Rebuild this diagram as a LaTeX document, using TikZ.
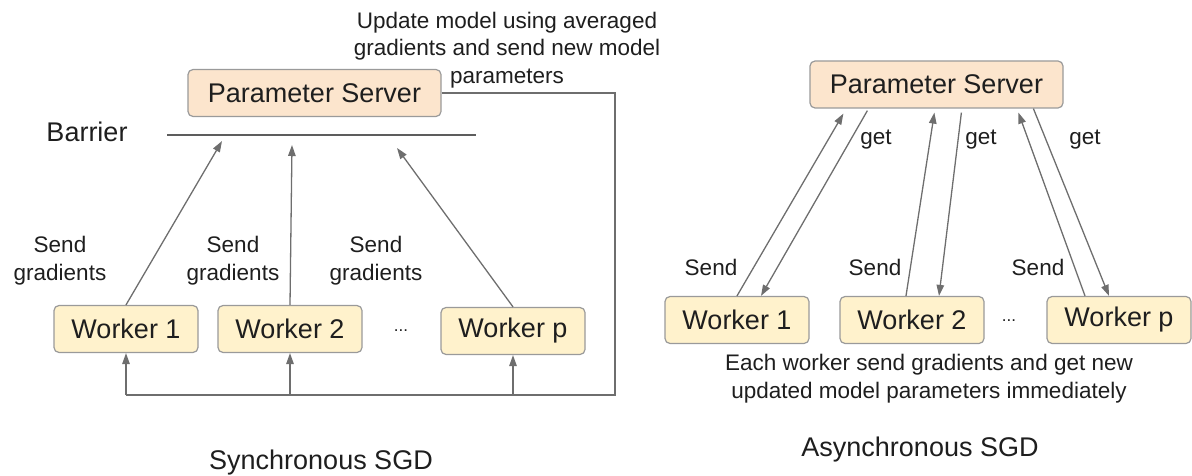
\documentclass[tikz,border=0pt]{standalone}
\usepackage{fontspec}
\setmainfont{Liberation Sans}
\usetikzlibrary{arrows.meta,calc}
\definecolor{psfill}{HTML}{FCE5CD}
\definecolor{wkfill}{HTML}{FFF2CC}
\definecolor{rim}{HTML}{9A9A9A}
\definecolor{wirecol}{HTML}{6E6E6E}
\definecolor{ink}{HTML}{1E1E1E}
\tikzstyle{server}=[draw=rim,fill=psfill,rounded corners=5pt,line width=1.2pt,minimum width=253pt,minimum height=47pt,text=ink,font=\fontsize{27}{32}\selectfont]
\tikzstyle{worker}=[draw=rim,fill=wkfill,rounded corners=5pt,line width=1.2pt,minimum width=144pt,minimum height=47pt,text=ink,font=\fontsize{27}{32}\selectfont]
\tikzstyle{note}=[align=center,inner sep=0pt,text=ink,font=\fontsize{22.5}{27.8}\selectfont]
\tikzstyle{heading}=[inner sep=0pt,text=ink,font=\fontsize{27}{32}\selectfont]
\tikzstyle{dots}=[anchor=base,inner sep=0pt,text=ink,font=\fontsize{17}{20}\selectfont]
\tikzstyle{wire}=[draw=wirecol,line width=1.3pt]
\tikzstyle{wirearrow}=[wire,-{Triangle[length=11pt,width=7.5pt]}]
\tikzstyle{bar}=[draw=wirecol!85!black,line width=2.6pt]

\begin{document}
\begin{tikzpicture}[x=1pt,y=-1pt]
\useasboundingbox (0,0) rectangle (1192,476);

% synchronous SGD
\node[note] (upd) at (507,50) {Update model using averaged\\gradients and send new model\\parameters};
\node[server] (lps) at (314.5,93) {Parameter Server};
\node[heading] (barrier) at (87,132) {Barrier};
\coordinate (bl) at (167,135);
\coordinate (br) at (476,135);
\draw[bar] (bl) -- (br);

\node[worker] (lw1) at (126,329) {Worker 1};
\node[worker] (lw2) at (290,329) {Worker 2};
\node[dots] (ldots) at (401,331) {...};
\node[worker] (lwp) at (513,331) {Worker p};

% gradients go up to the barrier
\coordinate (t1) at (222,141);
\coordinate (t2) at (292,145);
\coordinate (tp) at (397,148);
\draw[wirearrow] (lw1.north) -- (t1);
\draw[wirearrow] (lw2.north) -- (t2);
\draw[wirearrow] (lwp.north) -- (tp);
\node[note] (s1) at (60,261) {Send\\gradients};
\node[note] (s2) at (233,261) {Send\\gradients};
\node[note] (s3) at (376,261) {Send\\gradients};

% new model goes back to every worker
\coordinate (loop) at (615,395);
\draw[wire] (lps.east) -| (loop) -- (loop -| lw1);
\draw[wirearrow] (loop -| lw1) -- (lw1.south);
\draw[wirearrow] (loop -| lw2) -- (lw2.south);
\draw[wirearrow] (loop -| lwp) -- (lwp.south);

\node[heading] (sync) at (321,463) {Synchronous SGD};

% asynchronous SGD
\node[server] (rps) at (936.5,84.5) {Parameter Server};
\node[worker] (rw1) at (737,320) {Worker 1};
\node[worker] (rw2) at (912,320) {Worker 2};
\node[dots] (rdots) at (1009,321) {...};
\node[worker] (rwp) at (1119,320) {Worker p};

\draw[wirearrow] (rw1.north) -- ($(rps.south west)+(34,5)$);
\draw[wirearrow] ($(rps.south west)+(58,2)$) -- ($(rw1.north)+(24,0)$);
\draw[wirearrow] ($(rw2.north)+(-6,0)$) -- ($(rps.south west)+(125,4)$);
\draw[wirearrow] ($(rps.south west)+(152,4)$) -- ($(rw2.north)+(27,0)$);
\draw[wirearrow] ($(rwp.north)+(-34,0)$) -- ($(rps.south west)+(209,4)$);
\draw[wirearrow] ($(rps.south west)+(224,0)$) -- ($(rwp.north)+(-10,0)$);

\node[note] (g1) at (876,140) {get};
\node[note] (g2) at (981,140) {get};
\node[note] (gp) at (1085,140) {get};
\node[note] (p1) at (711,267) {Send};
\node[note] (p2) at (875,267) {Send};
\node[note] (pp) at (1038,267) {Send};

\node[note] (each) at (929,379) {Each worker send gradients and get new\\updated model parameters immediately};
\node[heading] (async) at (920,450) {Asynchronous SGD};
\end{tikzpicture}
\end{document}
